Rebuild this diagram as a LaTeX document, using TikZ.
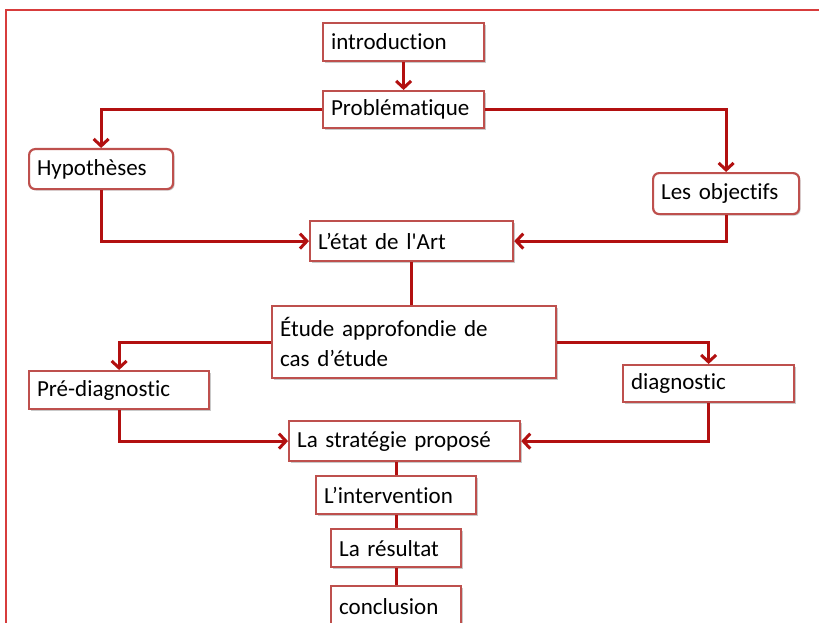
\documentclass[tikz,border=0pt]{standalone}
\usepackage{fontspec}
\setmainfont{Carlito}[Ligatures={TeXOff,NoCommon}]
\usetikzlibrary{arrows.meta,shadows}
\definecolor{boxred}{RGB}{190,80,77}
\definecolor{linered}{RGB}{178,16,16}
\definecolor{framered}{RGB}{215,60,60}
\begin{document}
\begin{tikzpicture}[x=1pt, y=-1pt,
		main/.style = {draw=boxred, line width=2.2pt, fill=white, anchor=north west, align=left, inner xsep=8pt, inner ysep=2pt, font=\fontsize{23}{30}\selectfont, drop shadow={shadow xshift=1.5pt, shadow yshift=-1.5pt, opacity=.35, fill=black!60}},
		arr/.style = {draw=linered, line width=3pt, -{Straight Barb[length=7pt, width=15pt, line width=3pt]}},
		link/.style = {draw=linered, line width=3pt}]
		\useasboundingbox (0,0) rectangle (819,623);
		\fill[white] (0,0) rectangle (819,623);
		\draw[framered, line width=1.2pt] (6,623) -- (6,10) -- (819,10);
		
		\node[main, minimum width=161, minimum height=38, text width=145] (1) at (322,22) {introduction};
		\node[main, minimum width=161, minimum height=37, text width=145] (2) at (322,90) {Problématique};
		\node[main, rounded corners=6pt, minimum width=144, minimum height=40, text width=128] (3) at (28,148) {Hypothèses};
		\node[main, rounded corners=6pt, minimum width=146, minimum height=41, text width=130] (4) at (652,172) {Les objectifs};
		\node[main, minimum width=203, minimum height=40, text width=187] (5) at (309,220) {L’état de l'Art};
		
		\node[main, minimum width=284, minimum height=72, text width=268] (6) at (271,305) {Étude approfondie de\\cas d’étude};
		\node[main, minimum width=180, minimum height=38, text width=164] (7) at (28,370) {Pré-diagnostic};
		\node[main, minimum width=171, minimum height=37, text width=155] (8) at (622,364) {diagnostic};
		\node[main, minimum width=231, minimum height=40, text width=215] (9) at (288,420) {La stratégie proposé};
		
		\node[main, minimum width=160, minimum height=38, text width=144] (10) at (315,475) {L’intervention};
		\node[main, minimum width=130, minimum height=38, text width=114] (11) at (330,528) {La résultat};
		\node[main, minimum width=130, minimum height=40, text width=114] (12) at (330,585) {conclusion};
		
		\draw[arr] (1) -- (2);
		\draw[arr] (2.west) -| (3.north);
		\draw[arr] (2.east) -| (4.north);
		\draw[arr] (3.south) |- (5.west);
		\draw[arr] (4.south) |- (5.east);
		\draw[link] (5.south) -- (5.south |- 6.north);
		\draw[arr] (6.west) -| (7.north);
		\draw[arr] (6.east) -| (8.north);
		\draw[arr] (7.south) |- (9.west);
		\draw[arr] (8.south) |- (9.east);
		\draw[link] (10.north |- 9.south) -- (10.north);
		\draw[link] (10.south) -- (11.north);
		\draw[link] (11.south) -- (12.north);
		
	\end{tikzpicture}
\end{document}
